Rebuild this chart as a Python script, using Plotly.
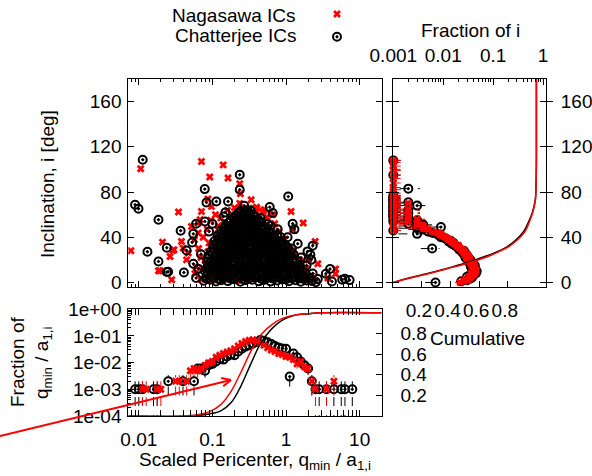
import math
import plotly.graph_objects as go

W, H = 592, 476
N_RUNS = 1000
RED = "#ff0000"
BLK = "#000000"
FONT = "Liberation Sans"

# ---------------- main scatter: scaled pericenter vs inclination ----------------
# sparse points (q_min / a_1,i , inclination [deg])
nag_sparse = [
    (0.0078, 28), (0.0106, 100.6), (0.021, 35.7), (0.0194, 10.3), (0.028, 2.4),
    (0.0266, 23), (0.0346, 62.3), (0.030, 29), (0.071, 107), (0.092, 93.3),
    (0.14, 104), (0.163, 92.4), (0.235, 87.4), (0.24, 78.5), (0.336, 73.2),
    (0.40, 65.2), (0.071, 62.8), (0.087, 73.8), (1.71, 52.6), (2.49, 36.3),
    (2.7, 16.5), (4.7, 11.9), (4.7, 7.7), (3.7, 3.9), (0.038, 36.3),
    (0.052, 49.6), (0.064, 52.6), (0.097, 67.3), (0.13, 57), (0.235, 70),
    (0.51, 64.3), (1.17, 62.8), (1.23, 46.6), (2.0, 20), (0.0185, 10.3),
    (0.029, 28.3), (0.040, 30.4), (0.047, 26), (0.057, 37.8), (0.064, 43.7),
    (0.0446, 20), (0.068, 55.5), (0.39, 65.8), (0.48, 62.8), (0.66, 60),
    (0.075, 40), (0.085, 47), (0.095, 55), (0.11, 60), (0.065, 30),
    (0.070, 22), (0.060, 14), (0.058, 8), (0.090, 35), (0.12, 50),
    (0.80, 45), (0.95, 38), (1.10, 30), (1.30, 25), (1.60, 18),
    (1.90, 12), (2.20, 6), (0.70, 52), (0.55, 58), (0.16, 64), (0.20, 66),
]
chat_sparse = [
    (0.0113, 108.6), (0.0089, 68.8), (0.0099, 65.2), (0.0131, 27.2), (0.0185, 55.5),
    (0.0185, 18.6), (0.025, 9.5), (0.024, 30.7), (0.037, 45.8), (0.0446, 28.3),
    (0.055, 43), (0.041, 8.8), (0.06, 3.9), (0.055, 16.5), (0.0787, 82.6),
    (0.083, 70.8), (0.079, 54), (0.113, 71.7), (0.163, 71.7), (0.235, 95.3),
    (0.235, 82), (0.27, 67.9), (0.6, 66.7), (0.66, 61.4), (1.07, 76),
    (1.23, 52), (1.3, 47), (0.57, 51.7), (0.77, 47), (1.05, 40),
    (1.44, 34.3), (2.3, 32.5), (1.96, 27.5), (2.2, 20), (2.14, 24.5),
    (3.47, 7.7), (3.96, 11.9), (4.2, 0.9), (5.8, 2.4), (6.3, 3.3),
    (7.3, 2.1), (2.54, 0.3), (0.06, 52), (0.053, 35.4), (0.142, 58.4),
    (0.024, 9.2), (0.070, 25), (0.065, 12), (0.090, 45), (0.10, 52),
    (0.15, 62), (0.30, 64), (0.45, 57), (0.62, 50), (0.85, 40),
    (1.20, 30), (1.60, 22), (1.90, 15), (2.30, 8), (2.70, 3),
]

# dense core of the distribution, log10(q) and inclination
nag_core_logq = [
    -1.16, -1.00, -0.84, -0.67, -0.50, -0.33, -0.17, 0.00, 0.16, 0.30, 0.40,
    -1.14, -0.97, -0.80, -0.63, -0.46, -0.30, -0.13, 0.03, 0.19, 0.27,
    -1.10, -0.93, -0.76, -0.60, -0.43, -0.26, -0.10, 0.06, 0.20,
    -1.06, -0.90, -0.73, -0.56, -0.40, -0.23, -0.07, 0.09,
    -1.00, -0.84, -0.67, -0.50, -0.34, -0.17, -0.03,
    -0.93, -0.78, -0.62, -0.46, -0.30, -0.16,
    -0.84, -0.70, -0.55, -0.40, -0.27,
    -0.72, -0.60, -0.47, -0.36,
    -0.63, -0.50, -0.40,
]
nag_core_inc = [
    3.1, 2.2, 4.0, 1.6, 3.5, 2.7, 4.2, 1.9, 3.3, 2.5, 1.4,
    11.4, 10.6, 12.0, 11.1, 10.3, 11.8, 10.9, 11.5, 10.7, 12.2,
    19.5, 18.8, 20.1, 19.2, 18.6, 19.9, 19.0, 20.3, 18.9,
    27.2, 26.5, 27.8, 26.9, 27.5, 26.7, 27.9, 26.6,
    35.4, 34.8, 35.9, 35.1, 34.6, 35.7, 35.0,
    43.2, 42.7, 43.6, 42.9, 43.4, 42.8,
    51.3, 50.8, 51.6, 51.0, 51.4,
    59.4, 58.9, 59.7, 59.1,
    66.2, 65.7, 66.5,
]
chat_core_logq = [
    -1.12, -1.03, -0.95, -0.88, -0.79, -0.71, -0.62, -0.55, -0.46, -0.37, -0.30, -0.21, -0.12, -0.05, 0.04, 0.13, 0.20, 0.28, 0.35,
    -1.08, -0.99, -0.90, -0.83, -0.75, -0.66, -0.58, -0.50, -0.41, -0.33, -0.25, -0.16, -0.08, 0.00, 0.09, 0.16, 0.24, 0.31,
    -1.10, -1.01, -0.93, -0.86, -0.77, -0.69, -0.60, -0.52, -0.44, -0.35, -0.27, -0.19, -0.10, -0.02, 0.06, 0.15, 0.22,
    -1.06, -0.97, -0.89, -0.80, -0.72, -0.64, -0.55, -0.47, -0.39, -0.31, -0.22, -0.14, -0.06, 0.03, 0.11, 0.19,
    -1.07, -0.98, -0.90, -0.82, -0.73, -0.65, -0.57, -0.48, -0.40, -0.32, -0.23, -0.15, -0.07, 0.01, 0.09, 0.15,
    -1.04, -0.95, -0.87, -0.78, -0.70, -0.62, -0.53, -0.45, -0.37, -0.28, -0.20, -0.12, -0.04, 0.05, 0.11,
    -1.02, -0.93, -0.85, -0.76, -0.68, -0.60, -0.51, -0.43, -0.35, -0.26, -0.18, -0.10, -0.02, 0.06,
    -0.99, -0.90, -0.82, -0.74, -0.65, -0.57, -0.49, -0.40, -0.32, -0.24, -0.15, -0.07, 0.00,
    -0.97, -0.88, -0.80, -0.71, -0.63, -0.55, -0.46, -0.38, -0.30, -0.21, -0.13, -0.06,
    -0.93, -0.85, -0.76, -0.68, -0.60, -0.51, -0.43, -0.35, -0.26, -0.18, -0.12,
    -0.88, -0.80, -0.71, -0.63, -0.55, -0.46, -0.38, -0.30, -0.23,
    -0.82, -0.74, -0.66, -0.57, -0.49, -0.41, -0.32,
    -0.75, -0.67, -0.58, -0.50, -0.42, -0.36,
    -0.68, -0.60, -0.52, -0.44,
    -0.62, -0.54, -0.48,
    # second, staggered layer
    -1.08, -0.99, -0.91, -0.84, -0.75, -0.67, -0.58, -0.50, -0.42, -0.33, -0.26, -0.17, -0.08, -0.01, 0.08, 0.17, 0.24, 0.32,
    -1.06, -0.97, -0.89, -0.81, -0.73, -0.64, -0.56, -0.48, -0.39, -0.31, -0.23, -0.14, -0.06, 0.02, 0.11, 0.19, 0.26,
    -1.08, -0.99, -0.91, -0.82, -0.74, -0.66, -0.57, -0.49, -0.41, -0.32, -0.24, -0.16, -0.07, 0.01, 0.09, 0.18,
    -1.04, -0.95, -0.87, -0.79, -0.70, -0.62, -0.54, -0.45, -0.37, -0.29, -0.20, -0.12, -0.04, 0.05, 0.13,
    -1.06, -0.97, -0.89, -0.80, -0.72, -0.64, -0.55, -0.47, -0.39, -0.30, -0.22, -0.14, -0.05, 0.03, 0.10,
    -1.00, -0.91, -0.83, -0.74, -0.66, -0.58, -0.49, -0.41, -0.33, -0.24, -0.16, -0.08, 0.01,
    -0.98, -0.89, -0.81, -0.72, -0.64, -0.56, -0.47, -0.39, -0.31, -0.22, -0.14, -0.05, 0.02,
    -0.95, -0.86, -0.78, -0.70, -0.61, -0.53, -0.45, -0.36, -0.28, -0.19, -0.11, -0.06,
    -0.91, -0.83, -0.74, -0.66, -0.58, -0.49, -0.41, -0.33, -0.24, -0.16,
    -0.87, -0.78, -0.70, -0.62, -0.53, -0.45, -0.37, -0.28, -0.22,
    -0.84, -0.76, -0.67, -0.59, -0.51, -0.42, -0.34, -0.27,
    -0.77, -0.69, -0.61, -0.52, -0.44, -0.37,
    -0.71, -0.63, -0.55, -0.47, -0.41,
    -0.65, -0.57, -0.50,
]
chat_core_inc = [
    1.5, 2.5, 0.8, 2.0, 1.2, 2.8, 0.6, 1.9, 2.4, 1.0, 2.2, 0.9, 1.7, 2.6, 1.1, 2.0, 0.7, 1.8, 1.3,
    5.8, 4.9, 6.3, 5.2, 6.0, 4.6, 5.9, 6.4, 5.0, 5.7, 6.2, 4.8, 5.5, 6.1, 5.1, 6.0, 5.3, 4.7,
    10.2, 9.4, 10.8, 9.8, 10.5, 9.1, 10.3, 11.0, 9.6, 10.1, 10.7, 9.3, 10.4, 9.9, 10.6, 9.7, 10.0,
    14.2, 15.0, 13.9, 14.8, 15.3, 14.1, 14.6, 13.8, 15.2, 14.4, 14.9, 13.7, 15.1, 14.3, 14.7, 14.0,
    18.6, 19.5, 18.9, 19.8, 18.4, 19.2, 19.9, 18.7, 19.4, 18.5, 19.7, 19.0, 18.3, 19.6, 18.8, 19.3,
    23.8, 23.0, 24.3, 23.4, 24.0, 22.9, 23.7, 24.4, 23.2, 23.9, 23.1, 24.2, 23.5, 22.8, 24.1,
    27.6, 28.4, 27.9, 28.7, 27.3, 28.1, 28.8, 27.5, 28.3, 27.8, 28.6, 27.4, 28.2, 27.7,
    32.9, 32.1, 33.3, 32.5, 32.0, 33.1, 32.7, 32.2, 33.4, 32.6, 32.3, 33.0, 32.4,
    36.7, 37.4, 36.9, 37.6, 36.5, 37.2, 37.8, 36.6, 37.3, 36.8, 37.5, 37.0,
    41.2, 42.0, 41.5, 41.1, 42.2, 41.7, 41.3, 42.1, 41.6, 41.0, 41.9,
    46.3, 45.8, 46.6, 45.9, 46.4, 45.7, 46.2, 46.5, 45.6,
    50.2, 50.8, 50.4, 51.0, 50.3, 50.7, 50.1,
    55.1, 54.7, 55.4, 54.9, 55.2, 54.6,
    59.2, 59.8, 59.4, 59.6,
    63.2, 62.7, 63.5,
    # second, staggered layer
    3.6, 4.1, 3.0, 3.9, 3.3, 4.4, 2.9, 3.7, 4.2, 3.1, 3.8, 3.4, 4.0, 2.8, 3.5, 4.3, 3.2, 3.7,
    8.2, 7.6, 8.7, 7.9, 8.4, 7.5, 8.1, 8.8, 7.7, 8.3, 8.6, 7.8, 8.0, 8.5, 7.4, 8.2, 7.9,
    12.4, 13.0, 12.1, 12.8, 12.3, 12.9, 12.6, 12.0, 13.1, 12.5, 12.7, 12.2, 13.2, 12.4, 12.8, 12.1,
    16.8, 17.4, 16.6, 17.2, 17.7, 16.9, 17.3, 16.7, 17.5, 17.0, 16.5, 17.6, 17.1, 16.8, 17.4,
    21.3, 21.9, 21.1, 21.7, 21.4, 22.0, 21.2, 21.8, 21.5, 21.0, 21.6, 22.1, 21.3, 21.9, 21.4,
    25.8, 26.4, 25.9, 26.6, 26.1, 25.7, 26.3, 26.0, 26.5, 25.6, 26.2, 25.9, 26.4,
    30.2, 30.8, 30.4, 31.0, 30.3, 30.7, 30.1, 30.9, 30.5, 30.2, 30.8, 30.4, 30.6,
    34.7, 35.3, 34.9, 35.5, 34.6, 35.2, 35.0, 34.8, 35.4, 34.7, 35.1, 34.9,
    39.3, 39.8, 39.5, 39.1, 39.9, 39.4, 39.7, 39.2, 39.6, 39.5,
    43.8, 44.3, 44.0, 44.5, 43.9, 44.2, 43.7, 44.4, 44.1,
    48.3, 48.8, 48.5, 48.2, 48.9, 48.4, 48.7, 48.6,
    52.8, 53.3, 52.9, 53.4, 53.0, 53.2,
    57.3, 57.8, 57.5, 57.2, 57.7,
    61.2, 60.8, 61.4,
]

# ---------------- inclination histogram (1 deg bins, counts of N_RUNS) ----------------
inc_bins = list(range(0, 111))
nag_inc_counts = [
    22, 26, 31, 28, 35, 33, 38, 41, 36, 44,
    40, 46, 42, 39, 43, 37, 40, 35, 38, 33,
    31, 34, 29, 32, 28, 30, 26, 27, 24, 25,
    22, 21, 19, 20, 17, 16, 15, 14, 13, 12,
    11, 10, 9, 9, 8, 6, 1, 5, 4, 1,
    4, 3, 1, 3, 2, 1, 3, 2, 1, 2,
    1, 2, 2, 1, 1, 2, 1, 1, 1, 1,
    2, 1, 1, 1, 1, 0, 1, 1, 0, 1,
    0, 0, 1, 0, 1, 0, 0, 0, 1, 0,
    0, 0, 1, 0, 0, 1, 0, 0, 0, 1,
    1, 0, 0, 1, 0, 0, 1, 0, 1, 0, 0,
]
chat_inc_counts = [
    7, 23, 30, 33, 37, 30, 40, 35, 45, 42,
    47, 38, 44, 41, 36, 43, 39, 34, 37, 32,
    35, 30, 28, 31, 27, 29, 25, 24, 26, 21,
    6, 20, 18, 17, 15, 16, 13, 14, 12, 11,
    9, 9, 8, 3, 6, 5, 1, 4, 3, 9,
    3, 4, 2, 3, 1, 3, 2, 1, 2, 1,
    1, 2, 1, 1, 2, 1, 1, 1, 3, 1,
    1, 2, 1, 1, 1, 1, 0, 1, 0, 0,
    0, 0, 0, 2, 0, 0, 0, 0, 0, 0,
    0, 0, 0, 0, 0, 1, 0, 0, 0, 0,
    0, 0, 0, 0, 0, 0, 0, 0, 1, 0, 0,
]

# cumulative inclination distributions
icum_inc = [0, 4, 8, 12, 17, 23, 28, 32, 38, 45, 55, 62, 73, 90, 110, 180]
nag_icum = [0, 0.12, 0.25, 0.37, 0.52, 0.66, 0.75, 0.81, 0.87, 0.92, 0.955, 0.975, 0.993, 0.998, 1.0, 1.0]
chat_icum = [0, 0.11, 0.24, 0.36, 0.50, 0.64, 0.74, 0.80, 0.86, 0.91, 0.95, 0.972, 0.992, 0.998, 1.0, 1.0]
marker_cum, marker_inc = [0.89], [-5.5]

# ---------------- pericenter histogram (0.05 dex bins) ----------------
q_bins_logq = [round(-2.05 + 0.05 * k, 2) for k in range(60)]
chat_q_counts = [
    1, 1, 1, 0, 0, 1, 1, 0, 0, 2,      # -2.05 .. -1.60
    0, 0, 0, 2, 0, 0, 2, 6, 6, 5,      # -1.55 .. -1.10
    8, 9, 11, 14, 13, 17, 20, 19, 26, 33,   # -1.05 .. -0.60
    40, 45, 52, 60, 70, 66, 58, 50, 42, 37,  # -0.55 .. -0.10
    34, 33, 3, 22, 16, 11, 8, 6, 2, 1,  # -0.05 .. 0.40
    1, 0, 1, 0, 1, 0, 1, 1, 0, 1,      # 0.45 .. 0.90
]
nag_q_counts = [
    0, 0, 1, 1, 0, 0, 1, 1, 0, 0,      # -2.05 .. -1.60
    0, 2, 2, 0, 2, 5, 6, 5, 6, 8,      # -1.55 .. -1.10
    10, 11, 16, 19, 22, 25, 28, 33, 42, 52,  # -1.05 .. -0.60
    62, 70, 72, 65, 55, 45, 36, 30, 26, 22,  # -0.55 .. -0.10
    20, 17, 16, 13, 9, 11, 7, 6, 2, 1,  # -0.05 .. 0.40
    0, 0, 1, 0, 2, 0, 0, 0, 0, 0,      # 0.45 .. 0.90
]

# cumulative pericenter distributions
nag_cum_q = [0.0072, 0.04, 0.06, 0.09, 0.13, 0.18, 0.25, 0.34, 0.46, 0.63, 0.86, 1.3, 2.0, 3.0, 20]
nag_cum = [0.0, 0.0, 0.01, 0.04, 0.11, 0.24, 0.44, 0.64, 0.79, 0.88, 0.94, 0.975, 0.99, 1.0, 1.0]
chat_cum_q = [0.0072, 0.05, 0.09, 0.13, 0.18, 0.24, 0.33, 0.45, 0.63, 0.9, 1.3, 2.0, 3.0, 20]
chat_cum = [0.0, 0.0, 0.02, 0.05, 0.13, 0.28, 0.50, 0.70, 0.84, 0.93, 0.975, 0.99, 1.0, 1.0]

X_RANGE = [math.log10(0.0072), math.log10(19.8)]


def px_x(p):
    return p / W


def px_y(p):
    return 1 - p / H


def nonzero(bins, counts):
    b = [x for x, c in zip(bins, counts) if c > 0]
    c = [c for c in counts if c > 0]
    return b, c


def err_lines(centers, counts, horizontal):
    """Poisson error bars as segments, lower end floored far below the axis."""
    a, b = [], []
    for x, c in zip(centers, counts):
        f = c / N_RUNS
        e = math.sqrt(c) / N_RUNS
        lo = max(f - e, 1e-7)
        hi = f + e
        if horizontal:
            a += [lo, hi, None]
            b += [x, x, None]
        else:
            a += [x, x, None]
            b += [lo, hi, None]
    return a, b


red_x = dict(symbol="x", size=7, color=RED, line=dict(width=0))
blk_o = dict(symbol="circle-open-dot", size=8, color=BLK, line=dict(width=2, color=BLK))

fig = go.Figure()

# ---- main panel ----
nq = [p[0] for p in nag_sparse] + [10 ** v for v in nag_core_logq]
ni = [p[1] for p in nag_sparse] + nag_core_inc
cq = [p[0] for p in chat_sparse] + [10 ** v for v in chat_core_logq]
ci = [p[1] for p in chat_sparse] + chat_core_inc
fig.add_trace(go.Scatter(x=nq, y=ni, mode="markers", marker=red_x, xaxis="x", yaxis="y"))
fig.add_trace(go.Scatter(x=cq, y=ci, mode="markers", marker=blk_o, xaxis="x", yaxis="y"))

# ---- right panel: inclination fractions ----
for counts, col, mk in ((chat_inc_counts, BLK, blk_o), (nag_inc_counts, RED, red_x)):
    b, c = nonzero(inc_bins, counts)
    ex, ey = err_lines(b, c, horizontal=True)
    fig.add_trace(go.Scatter(x=ex, y=ey, mode="lines", line=dict(color=col, width=1, dash="dash"),
                             xaxis="x2", yaxis="y2"))
    fig.add_trace(go.Scatter(x=[v / N_RUNS for v in c], y=b, mode="markers", marker=mk,
                             cliponaxis=False, xaxis="x2", yaxis="y2"))
fig.add_trace(go.Scatter(x=chat_icum, y=icum_inc, mode="lines", line=dict(color=BLK, width=1.5, shape="spline"),
                         xaxis="x3", yaxis="y2"))
fig.add_trace(go.Scatter(x=nag_icum, y=icum_inc, mode="lines", line=dict(color=RED, width=1.5, shape="spline"),
                         xaxis="x3", yaxis="y2"))
fig.add_trace(go.Scatter(x=marker_cum, y=marker_inc, mode="markers", cliponaxis=False,
                         marker=dict(symbol="circle", size=8, color=RED, line=dict(color="#7a0000", width=1)),
                         xaxis="x3", yaxis="y2"))

# ---- bottom panel: pericenter fractions ----
qb = [10 ** v for v in q_bins_logq]
for counts, col, mk in ((chat_q_counts, BLK, blk_o), (nag_q_counts, RED, red_x)):
    b, c = nonzero(qb, counts)
    ex, ey = err_lines(b, c, horizontal=False)
    fig.add_trace(go.Scatter(x=ex, y=ey, mode="lines", line=dict(color=col, width=1, dash="dash"),
                             xaxis="x4", yaxis="y4"))
    fig.add_trace(go.Scatter(x=b, y=[v / N_RUNS for v in c], mode="markers", marker=mk,
                             xaxis="x4", yaxis="y4"))
fig.add_trace(go.Scatter(x=chat_cum_q, y=chat_cum, mode="lines", line=dict(color=BLK, width=1.5, shape="spline"),
                         xaxis="x4", yaxis="y5"))
fig.add_trace(go.Scatter(x=nag_cum_q, y=nag_cum, mode="lines", line=dict(color=RED, width=1.5, shape="spline"),
                         xaxis="x4", yaxis="y5"))

# ---- legend keys ----
fig.add_trace(go.Scatter(x=[0.5], y=[0.76], mode="markers", marker=red_x, xaxis="x5", yaxis="y6"))
fig.add_trace(go.Scatter(x=[0.5], y=[0.22], mode="markers", marker=blk_o, xaxis="x5", yaxis="y6"))

log_minor = [m * 10 ** e for e in range(-5, 2) for m in range(2, 10)]
tick_font = dict(family=FONT, size=19, color=BLK)
common = dict(ticks="inside", ticklen=6, tickwidth=1, tickcolor=BLK, showgrid=False, zeroline=False,
              linecolor=BLK, linewidth=1, tickfont=tick_font, automargin=False, tickangle=0)
minor = dict(ticks="inside", ticklen=3, tickcolor=BLK, tickmode="array", tickvals=log_minor, showgrid=False)

main_x = [px_x(128.3), px_x(381.5)]
main_y = [px_y(287), px_y(79)]
right_x = [px_x(393.3), px_x(546)]
bot_y = [px_y(416), px_y(309.3)]

fig.update_layout(
    width=W, height=H, margin=dict(l=0, r=0, t=0, b=0, autoexpand=False),
    paper_bgcolor="white", plot_bgcolor="white", showlegend=False,
    font=dict(family=FONT, size=19, color=BLK),
    xaxis=dict(domain=main_x, type="log", range=X_RANGE, anchor="y", tickvals=[0.01, 0.1, 1, 10],
               showticklabels=False, showline=True, mirror="allticks", minor=minor, **common),
    yaxis=dict(domain=main_y, range=[-4, 180], anchor="x", tickvals=[0, 40, 80, 120, 160],
               showline=True, mirror="allticks", ticklabelstandoff=2, **common),
    xaxis2=dict(domain=right_x, type="log", range=[-3, 0.06], anchor="y2", side="top",
                tickvals=[0.001, 0.01, 0.1, 1], ticktext=["0.001", "0.01", "0.1", "1"],
                showline=True, mirror=True, minor=minor, ticklabelstandoff=8, **common),
    xaxis3=dict(overlaying="x2", anchor="y2", side="bottom", range=[0, 1.067],
                tickvals=[0.2, 0.4, 0.6, 0.8], ticktext=["0.2", "0.4", "0.6", "0.8"],
                showline=False, ticklabelstandoff=10, ticklabelshift=-3, **common),
    yaxis2=dict(domain=main_y, range=[-4, 180], anchor="x2", side="right", tickvals=[0, 40, 80, 120, 160],
                showline=True, mirror="allticks", ticklabelstandoff=10, **common),
    xaxis4=dict(domain=main_x, type="log", range=X_RANGE, anchor="y4", tickvals=[0.01, 0.1, 1, 10],
                ticktext=["0.01", "0.1", "1", "10"], showline=True, mirror="allticks", minor=minor,
                ticklabelstandoff=6, **common),
    yaxis4=dict(domain=bot_y, type="log", range=[-4, 0], anchor="x4",
                tickvals=[1e-4, 1e-3, 1e-2, 1e-1, 1], ticktext=["1e-04", "1e-03", "1e-02", "1e-01", "1e+00"],
                showline=True, mirror=True, minor=minor, ticklabelstandoff=2, **common),
    yaxis5=dict(overlaying="y4", anchor="x4", side="right", range=[0, 1.033],
                tickvals=[0.2, 0.4, 0.6, 0.8], ticktext=["0.2", "0.4", "0.6", "0.8"],
                showline=False, ticklabelstandoff=18, **common),
    xaxis5=dict(domain=[px_x(330), px_x(344)], range=[0, 1], visible=False, anchor="y6", automargin=False),
    yaxis6=dict(domain=[px_y(46), px_y(4)], range=[0, 1], visible=False, anchor="x5", automargin=False),
)

ann = dict(xref="paper", yref="paper", showarrow=False, yanchor="middle",
           font=dict(family=FONT, size=19, color=BLK))
fig.add_annotation(text="Inclination, i [deg]", x=px_x(48), y=px_y(184), xanchor="center", textangle=-90, **ann)
fig.add_annotation(text="Fraction of", x=px_x(17), y=px_y(362), xanchor="center", textangle=-90, **ann)
fig.add_annotation(text="q<sub>min</sub> / a<sub>1,i</sub>", x=px_x(43), y=px_y(362), xanchor="center",
                   textangle=-90, **ann)
fig.add_annotation(text="Scaled Pericenter, q<sub>min</sub> / a<sub>1,i</sub>", x=px_x(255), y=px_y(461),
                   xanchor="center", **ann)
fig.add_annotation(text="Fraction of i", x=px_x(470), y=px_y(30), xanchor="center", **ann)
fig.add_annotation(text="Cumulative", x=px_x(477), y=px_y(338), xanchor="center", **ann)
fig.add_annotation(text="Nagasawa ICs", x=px_x(298), y=px_y(15), xanchor="right", **ann)
fig.add_annotation(text="Chatterjee ICs", x=px_x(298), y=px_y(36), xanchor="right", **ann)

# red pointer arrow with an open head
tail = (0.0, 436.0)
head = (231.0, 380.0)
dx, dy = head[0] - tail[0], head[1] - tail[1]
L = math.hypot(dx, dy)
ux, uy = dx / L, dy / L
arrow_line = dict(color=RED, width=2)
fig.add_shape(type="line", xref="paper", yref="paper", x0=px_x(tail[0]), y0=px_y(tail[1]),
              x1=px_x(head[0]), y1=px_y(head[1]), line=arrow_line)
for ang in (math.radians(25), math.radians(-25)):
    bx = -ux * math.cos(ang) + uy * math.sin(ang)
    by = -ux * math.sin(ang) - uy * math.cos(ang)
    fig.add_shape(type="line", xref="paper", yref="paper", x0=px_x(head[0]), y0=px_y(head[1]),
                  x1=px_x(head[0] + 10 * bx), y1=px_y(head[1] + 10 * by), line=arrow_line)

fig.write_html("out.html")
